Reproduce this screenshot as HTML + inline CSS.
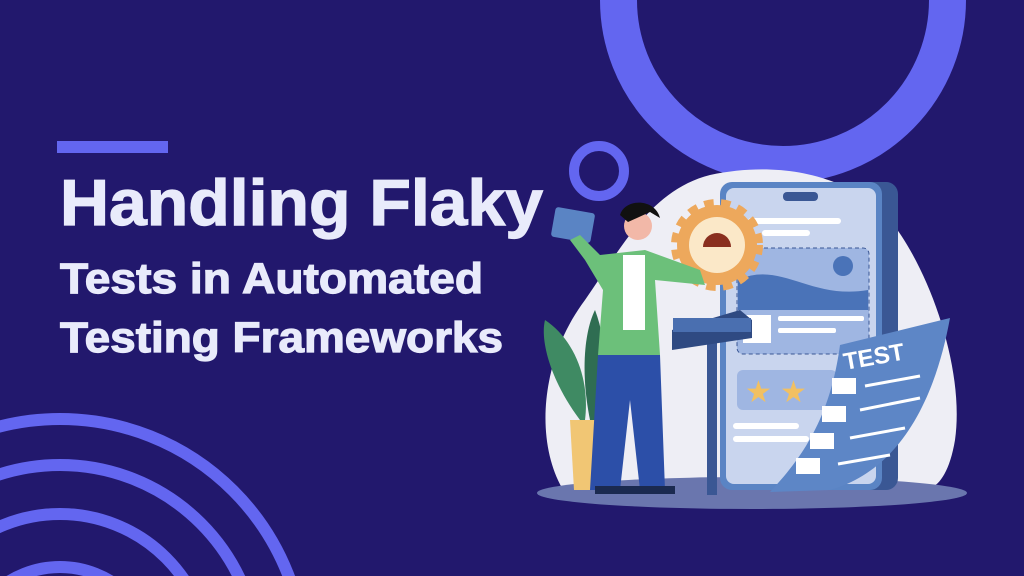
<!DOCTYPE html>
<html><head><meta charset="utf-8"><style>
html,body{margin:0;padding:0;background:#22186d;width:1024px;height:576px;overflow:hidden;}
svg{display:block}
</style></head><body>
<svg width="1024" height="576" viewBox="0 0 1024 576" xmlns="http://www.w3.org/2000/svg">
<rect width="1024" height="576" fill="#22186d"/>
<circle cx="783" cy="0" r="164.5" fill="none" stroke="#6366f0" stroke-width="37"/>
<circle cx="599" cy="171" r="25" fill="none" stroke="#6366f0" stroke-width="10"/>
<g fill="none" stroke="#6366f0" stroke-width="12">
<circle cx="60" cy="664" r="245"/>
<circle cx="60" cy="664" r="199"/>
<circle cx="60" cy="664" r="150"/>
<circle cx="60" cy="664" r="97"/>
</g>
<rect x="57" y="141" width="111" height="12" fill="#6366f0"/>
<g font-family="Liberation Sans, sans-serif" font-weight="bold" fill="#e9ebfb" stroke="#e9ebfb" stroke-width="1.2">
<text x="60" y="225" font-size="65" textLength="483" lengthAdjust="spacingAndGlyphs">Handling Flaky</text>
<text x="60" y="293" font-size="43" textLength="423" lengthAdjust="spacingAndGlyphs">Tests in Automated</text>
<text x="60" y="352" font-size="43" textLength="443" lengthAdjust="spacingAndGlyphs">Testing Frameworks</text>
</g>
<path d="M562 488 C535 440 540 360 585 300 C620 250 650 190 710 175 C780 160 850 175 890 220 C930 270 965 370 955 440 C950 470 940 485 930 488 Z" fill="#eeeef5"/>
<ellipse cx="752" cy="493" rx="215" ry="16" fill="#6a76ae"/>
<rect x="735" y="182" width="163" height="308" rx="12" fill="#3a5794"/>
<rect x="720" y="182" width="162" height="308" rx="12" fill="#5a84c4"/>
<rect x="726" y="188" width="150" height="296" rx="8" fill="#c9d5ee"/>
<rect x="783" y="192" width="35" height="9" rx="4" fill="#3a5794"/>
<rect x="748" y="218" width="93" height="6" rx="3" fill="#fff"/>
<rect x="762" y="230" width="48" height="6" rx="3" fill="#fff"/>
<rect x="737" y="248" width="132" height="106" rx="6" fill="#9fb6e2" stroke="#3a5794" stroke-dasharray="4 3"/>
<path d="M738 280 C780 260 810 300 868 290 L868 310 L738 310 Z" fill="#4a73b8"/>
<circle cx="843" cy="266" r="10" fill="#4a73b8"/>
<rect x="743" y="315" width="28" height="28" fill="#fff"/>
<rect x="778" y="316" width="86" height="5" rx="2" fill="#fff"/>
<rect x="778" y="328" width="58" height="5" rx="2" fill="#fff"/>
<rect x="737" y="370" width="100" height="40" rx="6" fill="#9fb6e2"/>
<g fill="#f2c061" font-size="30" font-family="DejaVu Sans,sans-serif"><text x="745" y="402">★</text><text x="780" y="402">★</text></g>
<rect x="733" y="423" width="66" height="6" rx="3" fill="#fff"/>
<rect x="733" y="436" width="76" height="6" rx="3" fill="#fff"/>
<circle cx="717" cy="245" r="40" fill="#eda85c" stroke="#eda85c" stroke-width="12" stroke-dasharray="9 7"/>
<circle cx="717" cy="245" r="28" fill="#fbe8c8"/>
<path d="M703 247 A14 14 0 0 1 731 247 Z" fill="#8a2f1f"/>
<rect x="707" y="340" width="10" height="155" fill="#3a5794"/>
<path d="M672 330 L740 310 L752 320 L752 338 L672 350 Z" fill="#2f4a82"/>
<rect x="673" y="318" width="78" height="14" fill="#4a6fb0"/>
<path d="M840 345 L950 318 C935 400 900 470 830 490 L770 492 C800 460 830 420 840 345 Z" fill="#5d86c6"/>
<text x="845" y="370" font-family="Liberation Sans,sans-serif" font-weight="bold" font-size="24" fill="#fff" transform="rotate(-10 845 370)">TEST</text>
<g fill="#fff"><rect x="832" y="378" width="24" height="16"/><rect x="822" y="406" width="24" height="16"/><rect x="810" y="433" width="24" height="16"/><rect x="796" y="458" width="24" height="16"/></g>
<g stroke="#fff" stroke-width="3"><line x1="865" y1="386" x2="920" y2="376"/><line x1="860" y1="410" x2="920" y2="398"/><line x1="850" y1="438" x2="905" y2="428"/><line x1="838" y1="464" x2="890" y2="455"/></g>
<path d="M570 420 L600 420 L596 490 L574 490 Z" fill="#f1c674"/>
<path d="M580 420 C550 380 540 340 545 320 C575 340 590 380 585 420 Z" fill="#3f8a63"/>
<path d="M590 420 C580 370 585 330 595 310 C610 350 605 390 595 420 Z" fill="#2f6d52"/>
<rect x="553" y="210" width="40" height="30" rx="3" fill="#5a84c4" transform="rotate(10 573 225)"/>
<path d="M598 355 L660 355 L665 490 L640 490 L630 400 L620 490 L590 490 Z" fill="#2c4fa8"/>
<path d="M600 255 L645 250 L700 270 L705 285 L655 280 L660 355 L598 355 L603 290 L585 260 L570 240 L580 235 Z" fill="#6cc07a"/>
<rect x="623" y="255" width="22" height="75" fill="#fff"/>
<circle cx="638" cy="226" r="14" fill="#f2b8a8"/>
<path d="M620 215 C625 198 655 198 660 218 L650 212 L628 222 Z" fill="#111"/>
<rect x="595" y="486" width="80" height="8" fill="#1b2a50"/>
</svg>
</body></html>
